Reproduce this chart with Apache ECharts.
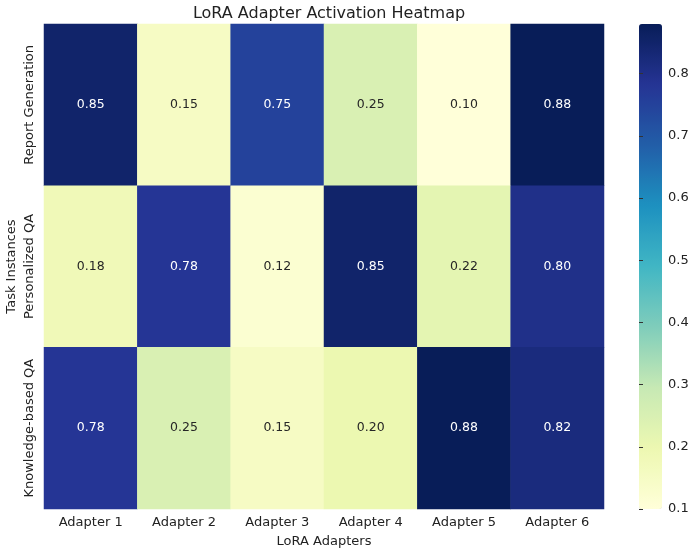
<!DOCTYPE html>
<html>
<head>
<meta charset="utf-8">
<script src="https://cdn.jsdelivr.net/npm/echarts@6/dist/echarts.min.js"></script>
<style>
  html, body { margin: 0; padding: 0; background: #fff; }
  #main { width: 695px; height: 553px; }
</style>
</head>
<body>
<div id="main"></div>
<script>
// adapters along x, tasks along y (top to bottom)
const adapters = ['Adapter 1', 'Adapter 2', 'Adapter 3', 'Adapter 4', 'Adapter 5', 'Adapter 6'];
const tasks = ['Report Generation', 'Personalized QA', 'Knowledge-based QA'];

const reportGeneration = [0.85, 0.15, 0.75, 0.25, 0.10, 0.88];
const personalizedQA = [0.18, 0.78, 0.12, 0.85, 0.22, 0.80];
const knowledgeQA = [0.78, 0.25, 0.15, 0.20, 0.88, 0.82];

const colorbarTickMin = 0.1;
const colorbarTickMax = 0.8;
const vMin = 0.1;
const vMax = 0.88;

// YlGnBu
const ylGnBu = ['#ffffd9', '#edf8b1', '#c7e9b4', '#7fcdbb', '#41b6c4', '#1d91c0', '#225ea8', '#253494', '#081d58'];

const FONT = 'DejaVu Sans';
const rows = [reportGeneration, personalizedQA, knowledgeQA];
const cells = [];
rows.forEach((row, r) => {
  row.forEach((v, c) => {
    cells.push({
      value: [c, r, v],
      label: { color: v > 0.5 ? '#ffffff' : '#262626' }
    });
  });
});

// colorbar geometry: bar spans vMin..vMax, tick axis only spans 0.1..0.8
const barTop = 24, barHeight = 485;
const pxPerUnit = barHeight / (vMax - vMin);
const axisHeight = (colorbarTickMax - colorbarTickMin) * pxPerUnit;
const axisTop = barTop + barHeight - axisHeight;

const chart = echarts.init(document.getElementById('main'), null, { renderer: 'canvas' });
chart.setOption({
  animation: false,
  backgroundColor: '#ffffff',
  textStyle: { fontFamily: FONT },
  title: {
    text: 'LoRA Adapter Activation Heatmap',
    left: 324,
    textAlign: 'center',
    top: 1,
    textStyle: { fontFamily: FONT, fontSize: 16, fontWeight: 'normal', color: '#222' }
  },
  grid: [
    { left: 44, right: 91, top: 24, bottom: 44, outerBoundsMode: 'none' },
    { left: 639, top: axisTop, width: 23, height: axisHeight, outerBoundsMode: 'none' }
  ],
  xAxis: [
    {
      type: 'category',
      data: adapters,
      name: 'LoRA Adapters',
      nameLocation: 'middle',
      nameGap: 26,
      nameMoveOverlap: false,
      nameTextStyle: { fontFamily: FONT, fontSize: 13, color: '#222' },
      axisLine: { show: false },
      axisTick: { alignWithLabel: true, length: 4, lineStyle: { color: '#333' } },
      axisLabel: { interval: 0, margin: 7, fontFamily: FONT, fontSize: 13, color: '#222' },
      splitLine: { show: false }
    },
    { gridIndex: 1, type: 'value', show: false, min: 0, max: 1 }
  ],
  yAxis: [
    {
      type: 'category',
      data: tasks,
      inverse: true,
      name: 'Task Instances',
      nameLocation: 'middle',
      nameRotate: 90,
      nameGap: 26,
      nameMoveOverlap: false,
      nameTextStyle: { fontFamily: FONT, fontSize: 13, color: '#222' },
      axisLine: { show: false },
      axisTick: { alignWithLabel: true, length: 4, lineStyle: { color: '#333' } },
      axisLabel: { interval: 0, rotate: 90, margin: 8, fontFamily: FONT, fontSize: 13, color: '#222' },
      splitLine: { show: false }
    },
    {
      gridIndex: 1,
      type: 'value',
      position: 'right',
      min: colorbarTickMin,
      max: colorbarTickMax,
      interval: 0.1,
      z: 10,
      axisLine: { show: false },
      splitLine: { show: false },
      axisTick: { show: true, inside: false, length: 4, lineStyle: { color: '#333', width: 1 } },
      axisLabel: {
        margin: 6,
        formatter: v => v.toFixed(1),
        fontFamily: FONT, fontSize: 13, color: '#222'
      }
    }
  ],
  visualMap: {
    type: 'continuous',
    min: vMin,
    max: vMax,
    seriesIndex: 0,
    calculable: false,
    hoverLink: false,
    orient: 'vertical',
    left: 639,
    top: barTop,
    padding: 0,
    itemWidth: 23,
    itemHeight: barHeight,
    text: null,
    inRange: { color: ylGnBu }
  },
  series: [
    {
      type: 'heatmap',
      xAxisIndex: 0,
      yAxisIndex: 0,
      data: cells,
      label: {
        show: true,
        fontFamily: FONT,
        fontSize: 12.5,
        formatter: p => p.value[2].toFixed(2)
      },
      itemStyle: { borderWidth: 0 },
      emphasis: { disabled: true }
    }
  ]
});
</script>
</body>
</html>
